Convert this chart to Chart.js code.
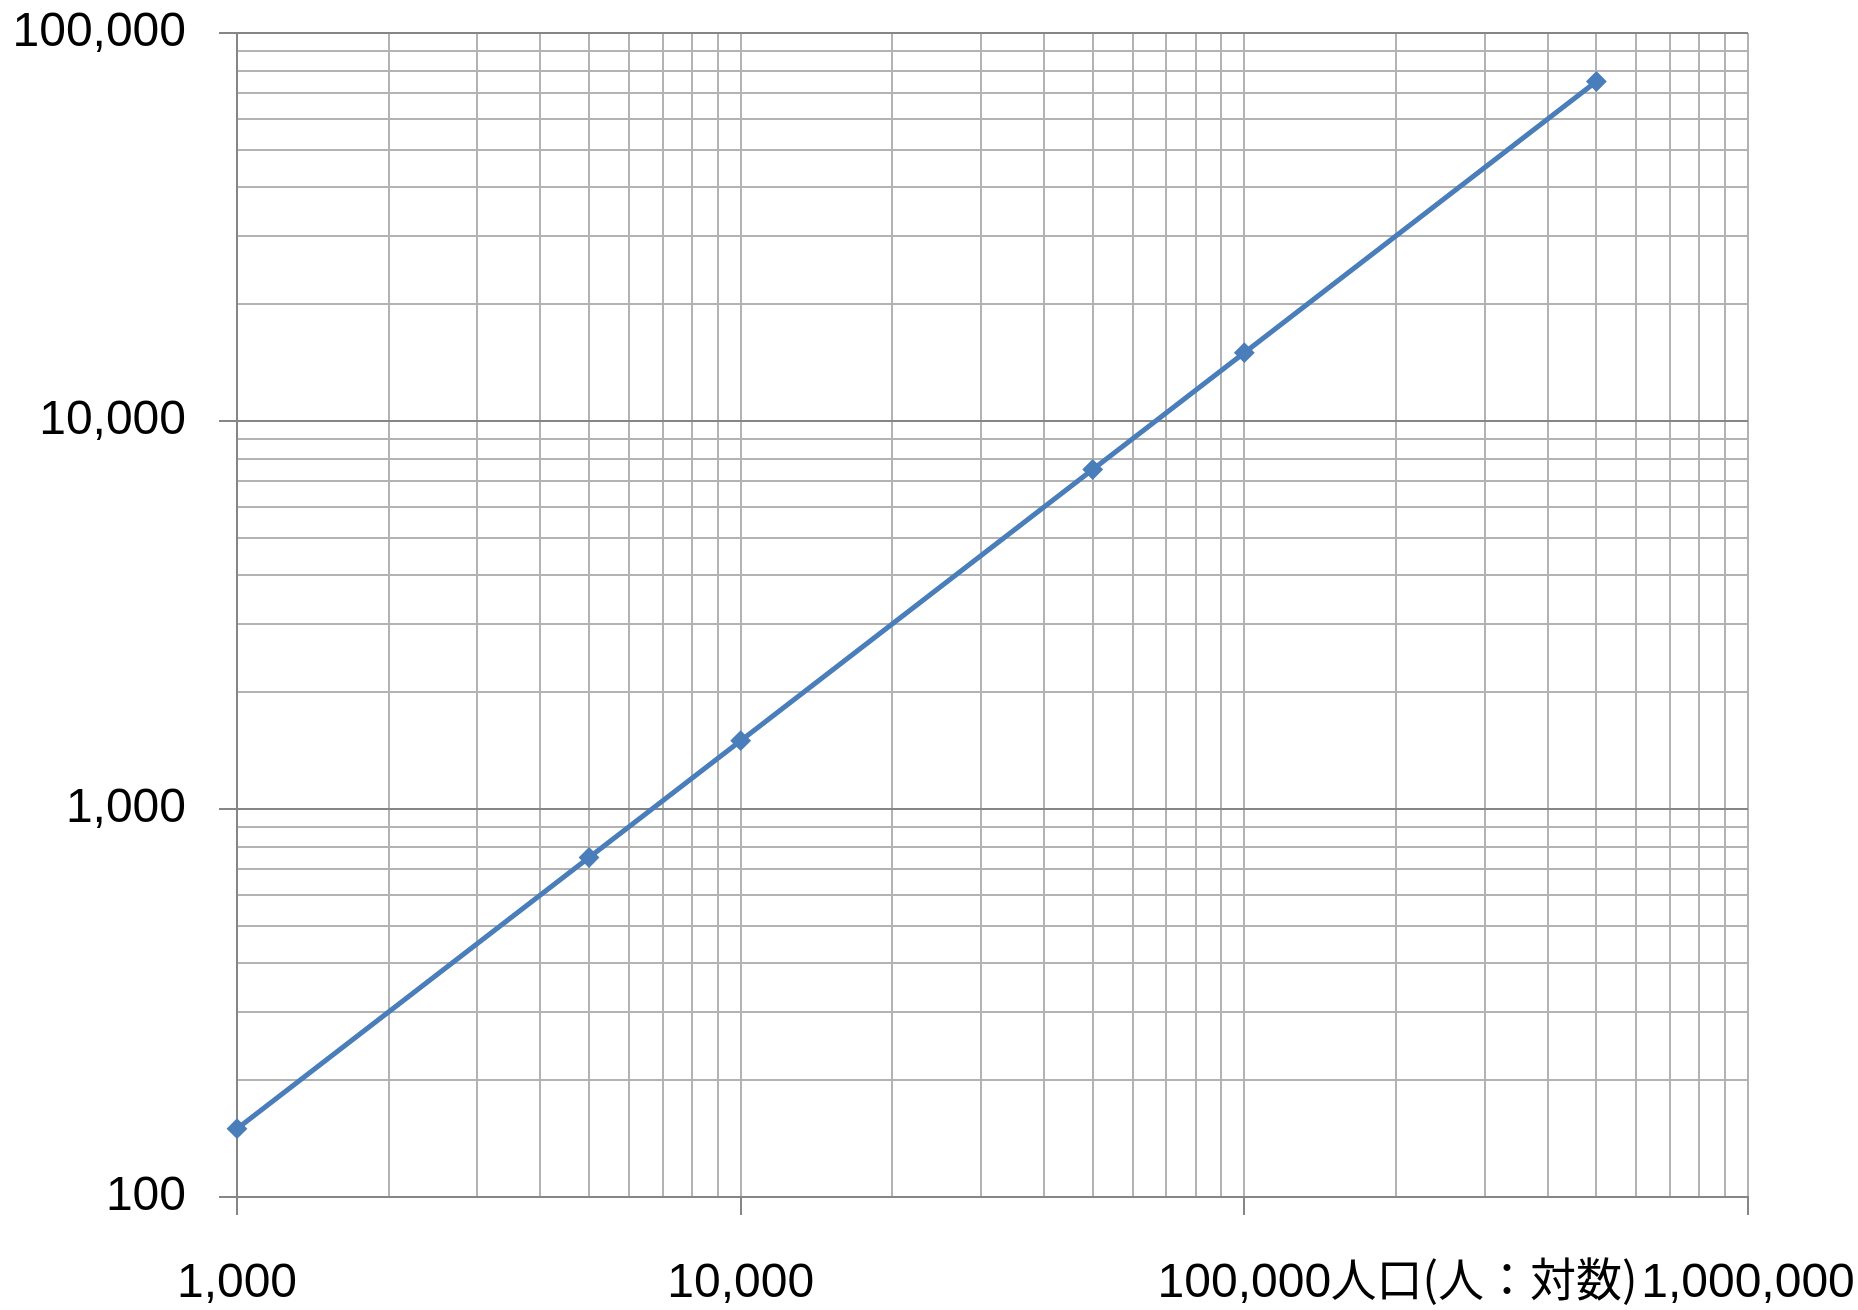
<!DOCTYPE html>
<html>
<head>
<meta charset="utf-8">
<script src="https://cdn.jsdelivr.net/npm/chart.js@4"></script>
<style>
  html, body { margin: 0; padding: 0; background: #fff; }
</style>
</head>
<body>
<canvas id="chart1" width="1858" height="1310"></canvas>
<script>
const population = [1000, 5000, 10000, 50000, 100000, 500000];
const values = [150, 750, 1500, 7500, 15000, 75000];
const xMajor = [1000, 10000, 100000, 1000000];
const yMajor = [100, 1000, 10000, 100000];
const minorSteps = [1, 2, 3, 4, 5, 6, 7, 8, 9];
const xTitle = '人口(人：対数)';

const FONT = '"Liberation Sans", Arial, sans-serif';
const CJK = '"Noto Sans CJK JP", sans-serif';
const majorColor = '#868686';
const minorColor = '#b3b3b3';

// gridline positions: 1..9 x each decade, then the last decade
function gridValues(majors) {
    const out = [];
    for (let i = 0; i < majors.length - 1; i++) {
        minorSteps.forEach(s => out.push(majors[i] * s));
    }
    out.push(majors[majors.length - 1]);
    return out;
}

const isMajor = (list, v) => list.some(m => Math.abs(m - v) < 1e-6);

const xTitlePlugin = {
    id: 'xTitle',
    afterDraw(chart) {
        const {ctx, chartArea} = chart;
        ctx.save();
        ctx.font = '46px ' + CJK;
        ctx.fillStyle = '#000';
        ctx.textAlign = 'center';
        ctx.textBaseline = 'middle';
        ctx.fillText(xTitle, chartArea.right - 264, chartArea.bottom + 82);
        ctx.restore();
    }
};

const ctx1 = document.getElementById('chart1').getContext('2d');

new Chart(ctx1, {
    type: 'line',
    data: {
        datasets: [{
            data: population.map((p, i) => ({x: p, y: values[i]})),
            borderColor: '#4a7ebb',
            backgroundColor: '#4a7ebb',
            borderWidth: 5,
            pointStyle: 'rectRot',
            pointRadius: 9,
            pointBorderWidth: 2,
            tension: 0,
            clip: false
        }]
    },
    options: {
        responsive: false,
        animation: false,
        devicePixelRatio: 1,
        layout: {padding: {top: 33, right: 110, left: 0, bottom: 0}},
        plugins: {legend: {display: false}, tooltip: {enabled: false}},
        scales: {
            x: {
                type: 'logarithmic',
                min: 1000,
                max: 1000000,
                afterBuildTicks: s => { s.ticks = gridValues(xMajor).map(v => ({value: v})); },
                afterFit: s => { s.height = 113; s.paddingLeft = 0; s.paddingRight = 0; },
                ticks: {
                    autoSkip: false,
                    maxRotation: 0,
                    padding: 40,
                    color: '#000',
                    font: {family: FONT, size: 48},
                    callback: v => isMajor(xMajor, v) ? v.toLocaleString('en-US') : ''
                },
                grid: {
                    color: minorColor,
                    lineWidth: 2,
                    tickLength: 18,
                    tickColor: c => isMajor(xMajor, c.tick.value) ? majorColor : 'transparent'
                },
                border: {color: majorColor, width: 2}
            },
            y: {
                type: 'logarithmic',
                min: 100,
                max: 100000,
                afterBuildTicks: s => { s.ticks = gridValues(yMajor).map(v => ({value: v})); },
                afterFit: s => { s.width = 237; s.paddingTop = 0; s.paddingBottom = 0; },
                ticks: {
                    autoSkip: false,
                    padding: 33,
                    color: '#000',
                    font: {family: FONT, size: 48},
                    callback: v => isMajor(yMajor, v) ? v.toLocaleString('en-US') : ''
                },
                grid: {
                    color: c => isMajor(yMajor, c.tick.value) ? majorColor : minorColor,
                    lineWidth: 2,
                    tickLength: 18,
                    tickColor: c => isMajor(yMajor, c.tick.value) ? majorColor : 'transparent'
                },
                border: {color: majorColor, width: 2}
            }
        }
    },
    plugins: [xTitlePlugin]
});
</script>
</body>
</html>
